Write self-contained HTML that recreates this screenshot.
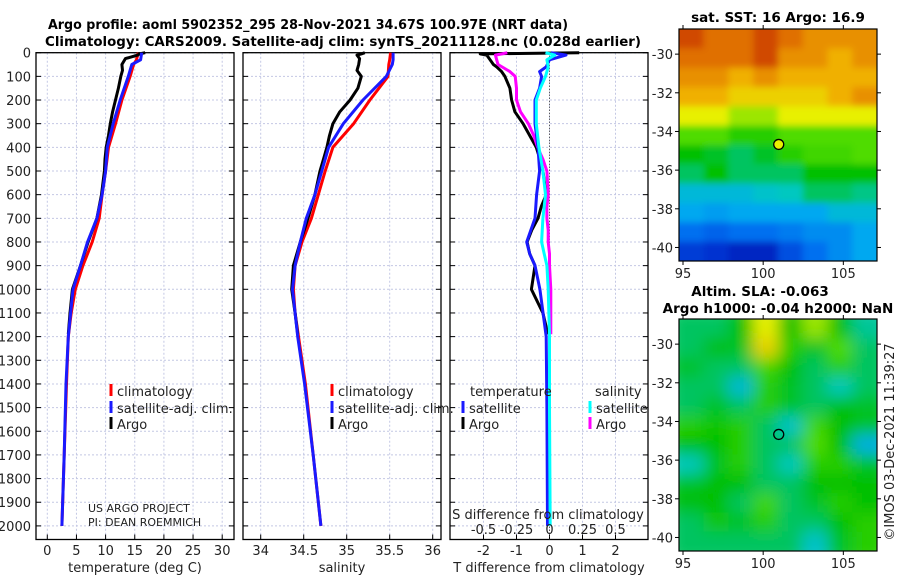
<!DOCTYPE html>
<html><head><meta charset="utf-8">
<style>
html,body{margin:0;padding:0;background:#fff;}
svg{display:block;font-family:"DejaVu Sans","Liberation Sans",sans-serif;}
.t{font-size:13px;fill:#222;}
.b{font-size:13.5px;font-weight:bold;fill:#000;}
</style></head>
<body>
<svg id="fig" width="900" height="580" viewBox="0 0 900 580" xmlns="http://www.w3.org/2000/svg">
<defs>
<filter id="blurS" x="0" y="0" width="1" height="1"><feGaussianBlur stdDeviation="3.5"/></filter>
<filter id="blurA" x="0" y="0" width="1" height="1"><feGaussianBlur stdDeviation="8"/></filter>
<clipPath id="clipM1"><rect x="679" y="29" width="198" height="232"/></clipPath>
<clipPath id="clipM2"><rect x="679" y="319" width="198" height="232"/></clipPath>
</defs>
<text class="b" x="48" y="29" textLength="520" lengthAdjust="spacingAndGlyphs">Argo profile: aoml 5902352_295 28-Nov-2021 34.67S 100.97E (NRT data)</text>
<text class="b" x="45" y="46" textLength="596" lengthAdjust="spacingAndGlyphs">Climatology: CARS2009. Satellite-adj clim: synTS_20211128.nc (0.028d earlier)</text>
<g id="g1"></g>
<g id="g2"></g>
<g id="g3"></g>
<g id="m1"></g>
<g id="m2"></g>
<text class="t" transform="translate(894,442) rotate(-90)" text-anchor="middle" style="font-size:13px">©IMOS 03-Dec-2021 11:39:27</text>
</svg>
<script>
// ---- data ----
const tempDepth = [0,30,50,100,200,300,400,500,600,700,800,900,1000,1100,1200,1400,1700,2000];
const tempClim  = [15.6,15.3,14.8,14.2,12.8,11.7,10.5,10.0,9.4,8.9,7.7,6.1,4.8,4.1,3.6,3.3,2.9,2.5];
const tempSat   = [16.2,16.0,14.5,13.9,12.5,11.3,10.3,10.0,9.4,8.5,6.9,5.7,4.4,4.0,3.6,3.2,2.9,2.5];
const argoDepth = [0,5,10,25,50,75,100,150,200,250,300,350,400,450,500,600,700,800,900,1000,1100,1190];
const tempArgo  = [16.8,15.8,15.5,13.4,12.8,12.9,12.6,12.2,11.7,11.2,10.8,10.5,10.1,9.9,9.8,9.3,8.5,7.0,5.7,4.3,3.9,3.6];
const salClim   = [35.51,35.50,35.49,35.48,35.27,35.08,34.84,34.75,34.67,34.59,34.48,34.40,34.38,34.40,34.44,34.52,34.61,34.70];
const salSat    = [35.54,35.54,35.53,35.46,35.19,34.96,34.79,34.71,34.63,34.53,34.46,34.40,34.37,34.40,34.43,34.51,34.61,34.70];
const salArgo   = [35.21,35.17,35.12,35.15,35.14,35.12,35.17,35.13,35.04,34.92,34.84,34.80,34.77,34.73,34.69,34.63,34.55,34.46,34.38,34.36,34.40,34.43];
const diffDepth = [0,5,10,30,50,60,80,100,150,200,250,300,350,400,450,500,600,650,700,750,800,850,900,1000,1100,1190];
const dTArgo    = [0.9,-2.1,-1.9,-1.8,-1.7,-1.6,-1.45,-1.35,-1.2,-1.15,-1.05,-0.8,-0.6,-0.4,-0.29,-0.2,-0.1,-0.25,-0.35,-0.54,-0.68,-0.6,-0.44,-0.55,-0.2,-0.05];
const dSArgo    = [-0.32,-0.36,-0.41,-0.40,-0.39,-0.36,-0.30,-0.26,-0.25,-0.25,-0.22,-0.16,-0.12,-0.09,-0.05,-0.02,-0.01,-0.02,-0.02,-0.01,-0.01,0.0,0.0,0.01,0.01,0.01];
const satDepth  = [0,10,30,60,80,100,150,200,300,400,500,600,700,800,850,900,1000,1200,1500,2000];
const dTSat     = [0.05,0.5,0.0,-0.1,-0.3,-0.24,-0.3,-0.44,-0.44,-0.35,-0.3,-0.39,-0.44,-0.69,-0.6,-0.44,-0.29,-0.1,-0.08,-0.06];
const dSSat     = [-0.03,0.04,-0.02,-0.01,-0.02,-0.03,-0.07,-0.10,-0.10,-0.08,-0.05,-0.03,-0.05,-0.06,-0.04,-0.02,-0.01,0.0,0.0,0.005];
const depthTicks = [0,100,200,300,400,500,600,700,800,900,1000,1100,1200,1300,1400,1500,1600,1700,1800,1900,2000];
const tTicks = [0,5,10,15,20,25,30];
const sTicks = [34,34.5,35,35.5,36];
const sTickLabels = ["34","34.5","35","35.5","36"];
const dTTicks = [-2,-1,0,1,2];
const dSTicks = [-0.5,-0.25,0,0.25,0.5];
const dSTickLabels = ["-0.5","-0.25","0","0.25","0.5"];
const latTicks = [-30,-32,-34,-36,-38,-40];
const lonTicks = [95,100,105];
const argoLon = 100.97, argoLat = -34.67;
// SST map grid (colour index 0..10), rows north->south, cols west->east
const sstGrid = [
[9.5,9,9,9.5,9,8.5,8.5,8.5],
[9,9,9,9.5,8.5,8.5,8,8.5],
[8.5,8.5,8,8.5,8,8,8,8],
[8,8,7.5,7.5,7.5,7.5,8,8.5],
[7,7,6.5,6.5,7,7,7,7],
[6,6,5.5,5.5,6,6,6,6],
[5,4.8,4.5,4.8,5.5,5.8,5.8,6],
[4.5,5,4.5,4.5,4.5,5,5,5],
[3.5,3.5,3.5,3.8,4,4.5,4.5,4.3],
[3,2.8,3,3,3,3,3.5,3.5],
[2,1.8,2,2,2.2,2.5,2.5,3],
[1.2,1,0.8,0.8,1.5,2,2.5,3]];
const slaGrid = [
[4.5,4.5,5,7,5,6.5,5,4.2],
[4.5,5,4.8,7.5,5.5,4.8,6,4.5],
[4.8,4.5,4.5,5.8,5,4.5,5.5,4.5],
[4.5,4.5,3.5,5.5,4.8,4.5,4,4.5],
[4.5,4.8,4.5,5.5,4.8,4.5,5,4.8],
[5.5,5.2,5.5,4.5,3.8,5.8,5,4.8],
[5,5,5.5,4.5,4.5,6,5,3.2],
[4,4.8,5.5,4.5,4,5.5,5.5,4.8],
[4.8,5,5,4.5,4.5,5,5,5],
[5,5,4.5,5.8,4.5,4.8,5.5,5],
[4.5,5.2,4.8,5.5,4.5,4.5,5,5.5],
[4.5,4.5,4.5,4.5,4.5,3.8,4.8,5.5]];
const cmap = ["#00008c","#0030d0","#0070f0","#00a8f0","#00c8c0","#00c000","#50dc00","#e8f000","#f0b000","#e07000","#c02000"];

// ---- helpers ----
const NS="http://www.w3.org/2000/svg";
function mk(parent,tag,attrs){const e=document.createElementNS(NS,tag);for(const k in attrs)e.setAttribute(k,attrs[k]);parent.appendChild(e);return e;}
const yTop=52.7, yBot=539.5;
function yD(d){return 52.7+d*0.2366;}
function xT(t){return 47.3+t*5.83;}
function xS(s){return 260.7+(s-34)*86;}
function xDT(v){return 549.5+v*33;}
function xDS(v){return 549.5+v*132;}
function colorAt(v){const i=Math.max(0,Math.min(10,v));const a=Math.floor(i),b=Math.min(10,a+1),f=i-a;
 const p=h=>[parseInt(h.substr(1,2),16),parseInt(h.substr(3,2),16),parseInt(h.substr(5,2),16)];
 const A=p(cmap[a]),B=p(cmap[b]);return "rgb("+A.map((c,k)=>Math.round(c+(B[k]-c)*f)).join(",")+")";}

function panel(g,x0,x1,xTicksArr,xfn,labels,leftLabels,title){
  for(const d of depthTicks){
    const l=mk(g,'line',{x1:x0,x2:x1,y1:yD(d),y2:yD(d),stroke:'#c4c8e4','stroke-width':1,'stroke-dasharray':'2,2'});
    
    mk(g,'line',{x1:x0,x2:x0+5,y1:yD(d),y2:yD(d),stroke:'#000'});
    mk(g,'line',{x1:x1-5,x2:x1,y1:yD(d),y2:yD(d),stroke:'#000'});
    if(leftLabels){const t=mk(g,'text',{x:31,y:yD(d)+5,'text-anchor':'end',class:'t'});t.textContent=d;
      }
  }
  xTicksArr.forEach((v,i)=>{
    const l=mk(g,'line',{x1:xfn(v),x2:xfn(v),y1:yTop,y2:yBot,stroke:'#c4c8e4','stroke-dasharray':'2,2'});
    
    mk(g,'line',{x1:xfn(v),x2:xfn(v),y1:yBot,y2:yBot-5,stroke:'#000'});
    const t=mk(g,'text',{x:xfn(v),y:555,'text-anchor':'middle',class:'t'});t.textContent=labels[i];
    
  });
  const r=mk(g,'rect',{x:x0,y:yTop,width:x1-x0,height:yBot-yTop,fill:'none',stroke:'#000','stroke-width':1.3});
  
  const tt=mk(g,'text',{x:(x0+x1)/2,y:572,'text-anchor':'middle',class:'t'});tt.textContent=title;
  
}
function line(g,depths,vals,xfn,color,name,w){
  const pts=depths.map((d,i)=>xfn(vals[i]).toFixed(1)+","+yD(d).toFixed(1)).join(" ");
  const p=mk(g,'polyline',{points:pts,fill:'none',stroke:color,'stroke-width':w||3,'stroke-linejoin':'round'});
  
}
function legend(g,x,y,color,label){
  mk(g,'rect',{x:x-1.5,y:y-8,width:3,height:12,fill:color});
  const t=mk(g,'text',{x:x+6,y:y+4,class:'t'});t.textContent=label;
  
}
function txt(g,x,y,s,anchor,cls,name,size){const t=mk(g,'text',{x:x,y:y,'text-anchor':anchor,class:cls});if(size)t.style.fontSize=size;t.textContent=s;
  return t;}

// ---- panel 1 ----
const g1=document.getElementById('g1');
panel(g1,36,234,tTicks,xT,tTicks.map(String),true,'temperature (deg C)');
line(g1,tempDepth,tempClim,xT,'#ff0000','temp-climatology-line');
line(g1,argoDepth,tempArgo,xT,'#000000','temp-argo-line');
line(g1,tempDepth,tempSat,xT,'#1a1aff','temp-satellite-line');
legend(g1,111,392,'#ff0000','climatology');legend(g1,111,409,'#1a1aff','satellite-adj. clim.');legend(g1,111,425,'#000','Argo');
txt(g1,88,512,'US ARGO PROJECT','start','t','project-credit','11px');
txt(g1,88,526,'PI: DEAN ROEMMICH','start','t','pi-credit','11px');

// ---- panel 2 ----
const g2=document.getElementById('g2');
panel(g2,243,441,sTicks,xS,sTickLabels,false,'salinity');
line(g2,tempDepth,salClim,xS,'#ff0000','sal-climatology-line');
line(g2,argoDepth,salArgo,xS,'#000000','sal-argo-line');
line(g2,tempDepth,salSat,xS,'#1a1aff','sal-satellite-line');
legend(g2,332,392,'#ff0000','climatology');legend(g2,332,409,'#1a1aff','satellite-adj. clim.');legend(g2,332,425,'#000','Argo');

// ---- panel 3 ----
const g3=document.getElementById('g3');
panel(g3,450,648,dTTicks,xDT,dTTicks.map(String),false,'T difference from climatology');
mk(g3,'line',{x1:xDT(0),x2:xDT(0),y1:yTop,y2:yBot,stroke:'#333','stroke-dasharray':'1,2'});
line(g3,diffDepth,dTArgo,xDT,'#000000','tdiff-argo-line');
line(g3,diffDepth,dSArgo,xDS,'#ff00ff','sdiff-argo-line');
line(g3,satDepth,dTSat,xDT,'#1a1aff','tdiff-satellite-line');
line(g3,satDepth,dSSat,xDS,'#00ffff','sdiff-satellite-line');
txt(g3,470,396,'temperature','start','t','legend-title-temperature');
txt(g3,595,396,'salinity','start','t','legend-title-salinity');
legend(g3,463,409,'#1a1aff','satellite');legend(g3,463,425,'#000','Argo');
legend(g3,590,409,'#00ffff','satellite');legend(g3,590,425,'#ff00ff','Argo');
txt(g3,548,519,'S difference from climatology','middle','t','s-axis-title');
dSTicks.forEach((v,i)=>txt(g3,xDS(v),534,dSTickLabels[i],'middle','t','s-tick-label'));

// ---- maps ----
function map(g,y0,grid,filt,clip,titleLines){
  const x0=679,w=198,h=232,lonL=94.75,lonR=107.1,latT=-28.7,latB=-40.7;
  const xL=lon=>x0+(lon-lonL)/(lonR-lonL)*w, yL=lat=>y0+(latT-lat)/(latT-latB)*h;
  const cg=mk(g,'g',{'clip-path':'url(#'+clip+')'});
  const bg=mk(cg,'g',{filter:'url(#'+filt+')'});
  const rows=grid.length,cols=grid[0].length,cw=w/cols,ch=h/rows;
  grid.forEach((row,r)=>row.forEach((v,c)=>{
    const cell=mk(bg,'rect',{x:x0+c*cw-(c==0?12:0),y:y0+r*ch-(r==0?12:0),width:cw+(c==0||c==cols-1?13:0.6),height:ch+(r==0||r==rows-1?13:0.6),fill:colorAt(v)});
    
  }));
  mk(g,'rect',{x:x0,y:y0,width:w,height:h,fill:'none',stroke:'#000','stroke-width':1.2});
  for(const la of latTicks){const y=yL(la);
    mk(g,'line',{x1:x0-4,x2:x0,y1:y,y2:y,stroke:'#000'});mk(g,'line',{x1:x0+w,x2:x0+w+4,y1:y,y2:y,stroke:'#000'});
    txt(g,673,y+5,String(la),'end','t','lat-tick-label');}
  for(const lo of lonTicks){const x=xL(lo);
    mk(g,'line',{x1:x,x2:x,y1:y0-4,y2:y0,stroke:'#000'});mk(g,'line',{x1:x,x2:x,y1:y0+h,y2:y0+h+4,stroke:'#000'});
    txt(g,x,y0+h+17,String(lo),'middle','t','lon-tick-label');}
  const c=mk(g,'circle',{cx:xL(argoLon),cy:yL(argoLat),r:5,fill:filt=='blurS'?'#e8f000':'none',stroke:'#000','stroke-width':1.3});
  
  titleLines.forEach(t=>txt(g,t[0],t[1],t[2],'middle','b','map-title'));
}
map(document.getElementById('m1'),29,sstGrid,'blurS','clipM1',[[778,22,'sat. SST: 16 Argo: 16.9']]);
map(document.getElementById('m2'),319,slaGrid,'blurA','clipM2',[[760,296,'Altim. SLA: -0.063'],[778,313,'Argo h1000: -0.04 h2000: NaN']]);
</script>
</body></html>
